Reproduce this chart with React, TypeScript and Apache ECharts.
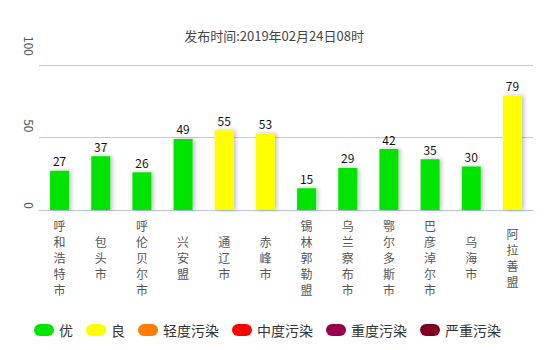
import React, { useEffect, useRef } from "react";
import * as echarts from "echarts";

const cities = ["呼和浩特市", "包头市", "呼伦贝尔市", "兴安盟", "通辽市", "赤峰市", "锡林郭勒盟", "乌兰察布市", "鄂尔多斯市", "巴彦淖尔市", "乌海市", "阿拉善盟"];
const aqiValues = [27, 37, 26, 49, 55, 53, 15, 29, 42, 35, 30, 79];
const levelNames = ["优", "良", "轻度污染", "中度污染", "重度污染", "严重污染"];
const levelColors = ["#00e400", "#ffff00", "#ff7e00", "#ff0000", "#99004c", "#7e0023"];
const levelUpper = [50, 100, 150, 200, 300, 100000];
const yTicks = [0, 50, 100];
const titleText = "发布时间:2019年02月24日08时";

const levelOf = (v: number) => levelUpper.findIndex((u) => v <= u);

export default function App() {
  const ref = useRef<HTMLDivElement>(null);
  useEffect(() => {
    document.body.style.margin = "0";
    if (!ref.current) return;
    const chart = echarts.init(ref.current, null, { renderer: "svg" });
    const font = "'Noto Sans CJK SC', 'Noto Sans', sans-serif";
    const series = levelNames.map((name, li) => ({
      name,
      type: "bar",
      stack: "aqi",
      barWidth: 19,
      data: aqiValues.map((v) => (levelOf(v) === li ? v : "-")),
      itemStyle: {
        color: levelColors[li],
        shadowColor: "rgba(0,0,0,0.25)",
        shadowBlur: 4,
        shadowOffsetX: 2,
        shadowOffsetY: 0,
      },
      label: {
        show: true,
        position: "top",
        distance: 4,
        color: "#111",
        fontSize: 12,
        fontFamily: font,
      },
    }));
    chart.setOption({
      animation: false,
      textStyle: { fontFamily: font },
      title: {
        text: titleText,
        left: "center",
        top: 24,
        textStyle: { fontSize: 13, fontWeight: "normal", color: "#444", fontFamily: font },
      },
      legend: {
        data: levelNames,
        left: 29,
        top: 318,
        itemWidth: 20,
        itemHeight: 12,
        itemGap: 13,
        icon: "path://M6,0 H14 A6,6 0 0 1 14,12 H6 A6,6 0 0 1 6,0 Z",
        textStyle: { fontSize: 14, color: "#333", fontFamily: font },
      },
      grid: { left: 39, right: 15, top: 65, bottom: 140 },
      xAxis: {
        type: "category",
        data: cities,
        axisLine: { lineStyle: { color: "#b7c6dc" } },
        axisTick: { length: 5, lineStyle: { color: "#b7c6dc" } },
        axisLabel: {
          interval: 0,
          color: "#555",
          fontSize: 12,
          lineHeight: 16,
          verticalAlign: "middle",
          margin: 47,
          formatter: (v: string) => v.split("").join("\n"),
        },
      },
      yAxis: {
        type: "value",
        min: yTicks[0],
        max: yTicks[yTicks.length - 1],
        interval: 50,
        axisLine: { show: false },
        axisTick: { show: false },
        splitLine: { lineStyle: { color: "#c8c8c8" } },
        axisLabel: {
          rotate: -90,
          color: "#555",
          fontSize: 12,
          align: "right",
          verticalAlign: "middle",
          margin: 10,
          formatter: (v: number) => `{p${v}|${v}}`,
          rich: {
            p0: { padding: [0, 1, 0, 0], color: "#555", fontSize: 12 },
            p50: { padding: [0, 5, 0, 0], color: "#555", fontSize: 12 },
            p100: { padding: [0, 9, 0, 0], color: "#555", fontSize: 12 },
          },
        },
      },
      series,
    });
    return () => chart.dispose();
  }, []);
  return <div ref={ref} style={{ width: 548, height: 350 }} />;
}
